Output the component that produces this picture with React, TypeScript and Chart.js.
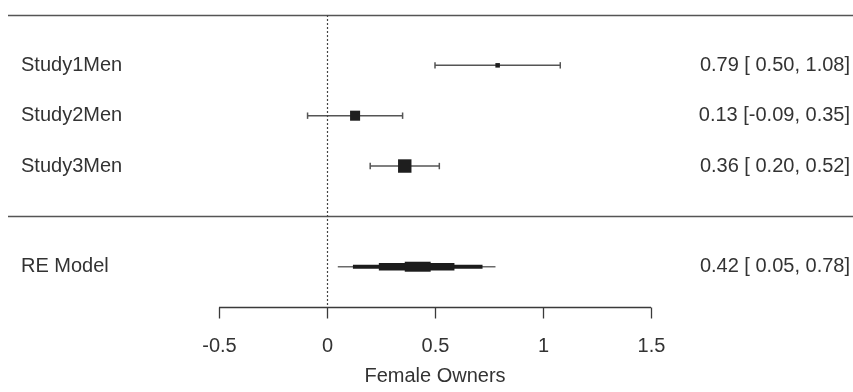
import React, { useEffect, useRef } from "react";
import { Chart, registerables } from "chart.js";

Chart.register(...registerables);

const studies = ["Study1Men", "Study2Men", "Study3Men"];
const estimates = [0.79, 0.13, 0.36];
const ciLower = [0.5, -0.09, 0.2];
const ciUpper = [1.08, 0.35, 0.52];

const reLabel = "RE Model";
const reEstimate = 0.42;
const reLower = 0.05;
const reUpper = 0.78;
// stepped polygon bounds of the summary shape
const reStepLower = [0.05, 0.12, 0.24, 0.36];
const reStepUpper = [0.78, 0.72, 0.59, 0.48];

const xTicks = [-0.5, 0, 0.5, 1, 1.5];
const xTitle = "Female Owners";

const FONT = '"Liberation Sans", Arial, sans-serif';
const TEXT = "#333333";
const LINE = "#555555";

function fmtLo(v: number) {
  return v < 0 ? v.toFixed(2) : " " + v.toFixed(2);
}

export default function App() {
  const ref = useRef<HTMLCanvasElement | null>(null);

  useEffect(() => {
    document.body.style.margin = "0";
    const canvas = ref.current;
    if (!canvas) return;

    const studyRows = studies.map((_, i) => 5 - i);
    const reRow = 1;

    const squareRadii = [3.2, 7.1, 9.5];
    const stepWidths = [1.5, 4, 7.5, 10];
    const stepColors = ["#6a6a6a", "#1c1c1c", "#1c1c1c", "#1c1c1c"];

    const datasets: any[] = [];
    datasets.push({
      type: "scatter",
      data: estimates.map((e, i) => ({ x: e, y: studyRows[i] })),
      pointStyle: "rect",
      pointRadius: squareRadii,
      backgroundColor: "#1e1e1e",
      borderWidth: 0,
      clip: false,
    });
    studies.forEach((_, i) => {
      datasets.push({
        type: "line",
        data: [
          { x: ciLower[i], y: studyRows[i] },
          { x: ciUpper[i], y: studyRows[i] },
        ],
        borderColor: LINE,
        borderWidth: 1.5,
        pointStyle: "line",
        rotation: 90,
        pointRadius: 3.2,
        pointBorderWidth: 1.5,
        pointBorderColor: LINE,
        clip: false,
      });
    });
    // summary estimate: layered segments from widest to narrowest
    reStepLower.forEach((lo, k) => {
      datasets.push({
        type: "line",
        data: [
          { x: lo, y: reRow },
          { x: reStepUpper[k], y: reRow },
        ],
        borderColor: stepColors[k],
        borderWidth: stepWidths[k],
        borderCapStyle: "butt",
        pointRadius: 0,
        clip: false,
        order: -k,
      });
    });

    const decor = {
      id: "forestDecor",
      afterDraw(chart: any) {
        const ctx = chart.ctx;
        const xs = chart.scales.x;
        const ys = chart.scales.y;
        const W = chart.width;
        ctx.save();
        // horizontal rules
        ctx.strokeStyle = LINE;
        ctx.lineWidth = 1.5;
        [6, 2].forEach((yv) => {
          const py = Math.round(ys.getPixelForValue(yv)) + 0.5;
          ctx.beginPath();
          ctx.moveTo(8, py);
          ctx.lineTo(W, py);
          ctx.stroke();
        });
        // zero reference line
        const px0 = Math.round(xs.getPixelForValue(0)) + 0.5;
        ctx.setLineDash([2, 2]);
        ctx.lineWidth = 1.2;
        ctx.strokeStyle = "#444";
        ctx.beginPath();
        ctx.moveTo(px0, ys.getPixelForValue(6));
        ctx.lineTo(px0, ys.getPixelForValue(0.2));
        ctx.stroke();
        ctx.setLineDash([]);
        // x axis
        const ay = Math.round(ys.getPixelForValue(0.2)) + 0.5;
        ctx.strokeStyle = "#3a3a3a";
        ctx.lineWidth = 1.3;
        ctx.beginPath();
        ctx.moveTo(xs.getPixelForValue(xTicks[0]), ay);
        ctx.lineTo(xs.getPixelForValue(xTicks[xTicks.length - 1]), ay);
        ctx.stroke();
        ctx.font = `20px ${FONT}`;
        ctx.fillStyle = TEXT;
        ctx.textAlign = "center";
        ctx.textBaseline = "middle";
        xTicks.forEach((t) => {
          const px = Math.round(xs.getPixelForValue(t)) + 0.5;
          ctx.beginPath();
          ctx.moveTo(px, ay);
          ctx.lineTo(px, ay + 11);
          ctx.stroke();
          ctx.fillText(String(t), px, ay + 39);
        });
        ctx.fillText(xTitle, xs.getPixelForValue(0.5), ay + 69);
        // left labels
        ctx.textAlign = "left";
        studies.forEach((s, i) => {
          ctx.fillText(s, 21, ys.getPixelForValue(studyRows[i]));
        });
        ctx.fillText(reLabel, 21, ys.getPixelForValue(reRow));
        // right labels
        ctx.textAlign = "right";
        studies.forEach((_, i) => {
          const t = `${estimates[i].toFixed(2)} [${fmtLo(ciLower[i])}, ${ciUpper[i].toFixed(2)}]`;
          ctx.fillText(t, 850, ys.getPixelForValue(studyRows[i]));
        });
        ctx.fillText(
          `${reEstimate.toFixed(2)} [${fmtLo(reLower)}, ${reUpper.toFixed(2)}]`,
          850,
          ys.getPixelForValue(reRow)
        );
        ctx.restore();
      },
    };

    const chart = new Chart(canvas, {
      type: "scatter",
      data: { datasets },
      options: {
        animation: false,
        responsive: false,
        devicePixelRatio: 1,
        layout: { padding: { left: 219, right: 202, top: 15, bottom: 85 } },
        plugins: { legend: { display: false }, tooltip: { enabled: false } },
        scales: {
          x: { type: "linear", min: -0.5, max: 1.5, display: false },
          y: { type: "linear", min: 0.2, max: 6, display: false },
        },
      },
      plugins: [decor],
    });
    return () => chart.destroy();
  }, []);

  return (
    <canvas
      ref={ref}
      width={853}
      height={392}
      style={{ display: "block", width: 853, height: 392 }}
    />
  );
}
